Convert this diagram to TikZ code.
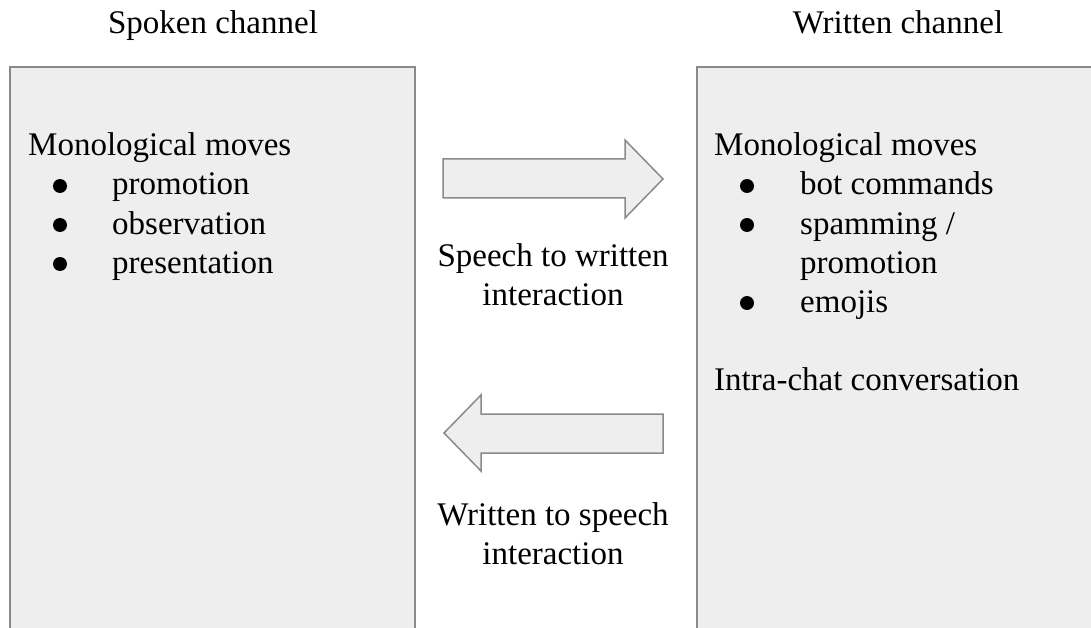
\documentclass[tikz,border=0pt]{standalone}
\usepackage{fontspec}
\setmainfont{Liberation Serif}
\definecolor{boxfill}{HTML}{EEEEEE}
\definecolor{boxline}{HTML}{8A8A8A}
\begin{document}
\begin{tikzpicture}[x=1pt,y=-1pt,
  panel/.style={fill=boxfill,draw=boxline,line width=1.5pt},
  blockarrow/.style={fill=boxfill,draw=boxline,line width=1.5pt,line join=miter},
  txt/.style={inner sep=0pt,anchor=base west,font=\fontsize{33}{39}\selectfont},
  ctxt/.style={inner sep=0pt,anchor=base,font=\fontsize{33}{39}\selectfont},
  bul/.style={circle,fill=black,inner sep=0pt,minimum size=14pt}]
\useasboundingbox (0,0) rectangle (1091,628);
% panels
\draw[panel] (10,700) -- (10,67) -- (415,67) -- (415,700);
\draw[panel] (697,700) -- (697,67) -- (1200,67) -- (1200,700);
% titles
\node[ctxt] (spoken) at (213,34) {Spoken channel};
\node[ctxt] (written) at (898,34) {Written channel};
% left content
\node[txt] (lmono) at (28,156) {Monological moves};
\node[bul] (lb1) at (60,186) {};
\node[txt] (lprom) at (112,195) {promotion};
\node[bul] (lb2) at (60,225) {};
\node[txt] (lobs) at (112,234) {observation};
\node[bul] (lb3) at (60,264) {};
\node[txt] (lpres) at (112,273) {presentation};
% right content
\node[txt] (rmono) at (714,156) {Monological moves};
\node[bul] (rb1) at (747,186) {};
\node[txt] (rbot) at (800,195) {bot commands};
\node[bul] (rb2) at (747,225) {};
\node[txt] (rspam) at (800,234) {spamming /};
\node[txt] (rprom) at (800,273) {promotion};
\node[bul] (rb3) at (747,303) {};
\node[txt] (remo) at (800,312) {emojis};
\node[txt] (rintra) at (714,390) {Intra-chat conversation};
% arrows
\draw[blockarrow] (443,159) -- (625,159) -- (625,140) -- (663,179) -- (625,218) -- (625,198) -- (443,198) -- cycle;
\draw[blockarrow] (663,414) -- (481,414) -- (481,395) -- (444,433) -- (481,471) -- (481,453) -- (663,453) -- cycle;
% arrow labels
\node[ctxt] (s2w1) at (553,266) {Speech to written};
\node[ctxt] (s2w2) at (553,305) {interaction};
\node[ctxt] (w2s1) at (553,525) {Written to speech};
\node[ctxt] (w2s2) at (553,564) {interaction};
\end{tikzpicture}
\end{document}
